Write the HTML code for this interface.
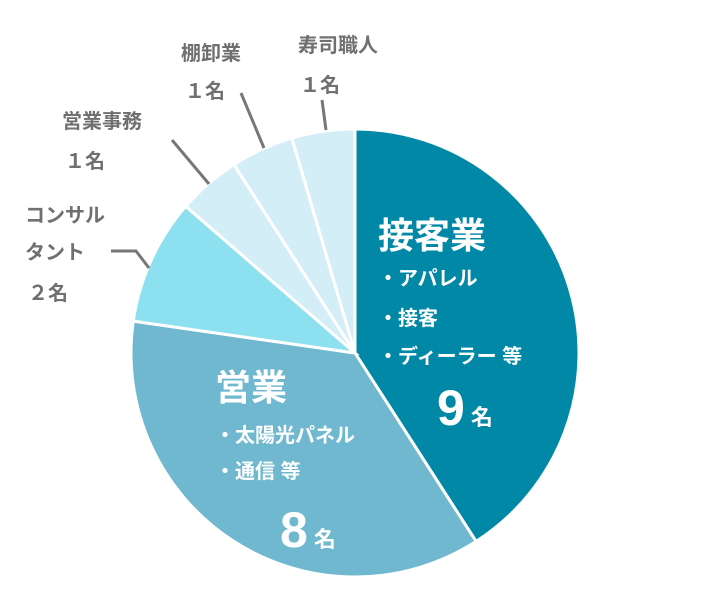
<!DOCTYPE html>
<html><head><meta charset="utf-8"><style>
body{margin:0;background:#fff}
svg{display:block;font-family:"Liberation Sans","Noto Sans CJK JP",sans-serif;font-weight:bold}
.g{fill:#707070;font-size:20px}
.w{fill:#fff}
</style></head><body>
<svg id="c" width="710" height="615">
<g id="slices"></g>
<g stroke="#777" stroke-width="3" fill="none">
<path d="M322,100 L326,130"/><path d="M241,93 L264,148"/><path d="M172,140 L209,184"/><path d="M111,251 L136,251 L149,268"/>
</g>
<g>
<text class="g" x="298" y="52">寿司職人</text>
<text class="g" x="300" y="92">１名</text>
<text class="g" x="181" y="60">棚卸業</text>
<text class="g" x="185" y="98">１名</text>
<text class="g" x="62" y="128">営業事務</text>
<text class="g" x="65" y="168">１名</text>
<text class="g" x="25" y="222">コンサル</text>
<text class="g" x="25" y="259">タント</text>
<text class="g" x="28" y="300">２名</text>
</g>
<g class="w">
<text x="378" y="248" font-size="36" class="w">接客業</text>
<text x="378" y="285" font-size="20" class="w">・アパレル</text>
<text x="378" y="325" font-size="20" class="w">・接客</text>
<text x="378" y="363" font-size="20" class="w">・ディーラー 等</text>
<text x="437" y="425" font-size="50" class="w">9<tspan font-size="22" dx="6">名</tspan></text>
<text x="215" y="400" font-size="36" class="w">営業</text>
<text x="215" y="442" font-size="20" class="w">・太陽光パネル</text>
<text x="215" y="478" font-size="20" class="w">・通信 等</text>
<text x="280" y="547" font-size="50" class="w">8<tspan font-size="22" dx="6">名</tspan></text>
</g>
</svg>
<script>
const categories=["接客業","営業","コンサルタント","営業事務","棚卸業","寿司職人"];
const values=[9,8,2,1,1,1];
const colors=["#0088a6","#6fb8d0","#8ce0ef","#d3eef7","#d3eef7","#d3eef7"];
const names=["slice-sekkyaku","slice-eigyo","slice-consultant","slice-eigyo-jimu","slice-tanaoroshi","slice-sushi"];
const cx=355,cy=353,r=224;
const total=values.reduce((a,b)=>a+b,0);
const g=document.getElementById("slices");
let a0=0;
function pt(a){return [cx+r*Math.sin(a),cy-r*Math.cos(a)];}
values.forEach((v,i)=>{
  const a1=a0+v/total*2*Math.PI;
  const p0=pt(a0),p1=pt(a1);
  const p=document.createElementNS("http://www.w3.org/2000/svg","path");
  p.setAttribute("d",`M${cx},${cy} L${p0[0]},${p0[1]} A${r},${r} 0 ${a1-a0>Math.PI?1:0} 1 ${p1[0]},${p1[1]} Z`);
  p.setAttribute("fill",colors[i]);
  p.setAttribute("stroke","#fff");
  p.setAttribute("stroke-width","3");
  
  
  g.appendChild(p);
  a0=a1;
});
</script>
</body></html>
